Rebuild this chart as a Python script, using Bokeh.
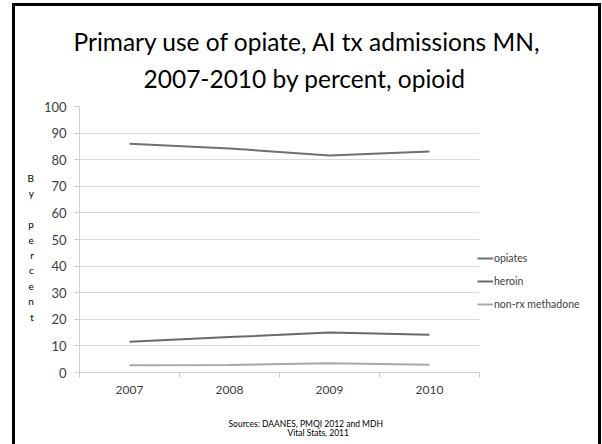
from bokeh.plotting import figure
from bokeh.models import (Range1d, FixedTicker, Legend, LegendItem, Title,
                          BoxAnnotation, ColumnDataSource, InlineStyleSheet)
from bokeh.embed import file_html
from bokeh.resources import INLINE

# Data: percent of primary-opiate admissions by opioid type
years = ["2007", "2008", "2009", "2010"]
opiates = [86.0, 84.2, 81.6, 83.1]
heroin = [11.6, 13.3, 15.0, 14.2]
methadone = [2.7, 2.8, 3.5, 2.9]
series_names = ["opiates", "heroin", "non-rx methadone"]
series_colors = ["#707070", "#6a6a6a", "#a8a8a8"]
y_ticks = list(range(0, 101, 10))
source_lines = ["Sources: DAANES, PMQI 2012 and MDH", "Vital Stats, 2011"]

FONT = "Lato"
W, H = 602, 444
n = len(years)
# the frame runs on to the right edge so the legend sits inside it;
# the category bands occupy 0..n, the rest holds the legend
x_end = n * (W - 79) / 400.0

p = figure(width=W, height=H, output_backend="svg", toolbar_location=None,
           x_range=Range1d(0, x_end), y_range=Range1d(0, 100),
           min_border_left=79, min_border_right=0,
           min_border_top=106, min_border_bottom=72)
p.outline_line_color = None
p.background_fill_color = "white"
p.border_fill_color = "white"

# category positions sit at the centre of each band
xs = [i + 0.5 for i in range(n)]

renderers = []
for name, vals, col in zip(series_names, [opiates, heroin, methadone], series_colors):
    src = ColumnDataSource(dict(x=xs, y=vals))
    r = p.line("x", "y", source=src, line_color=col, line_width=2)
    renderers.append((name, r))

# x axis: labels at band centres, tick marks at band edges
xa = p.xaxis[0]
xa.bounds = (0, n)
xa.ticker = FixedTicker(ticks=xs, minor_ticks=list(range(n + 1)))
xa.major_label_overrides = {x: y for x, y in zip(xs, years)}
xa.major_tick_out = 0
xa.major_tick_in = 0
xa.minor_tick_out = 5
xa.minor_tick_in = 0
xa.minor_tick_line_color = "#c8c8c8"
xa.axis_line_color = "#c8c8c8"
xa.major_label_text_font = FONT
xa.major_label_text_font_size = "12px"
xa.major_label_text_color = "#404040"
xa.major_label_standoff = 8

ya = p.yaxis[0]
ya.ticker = FixedTicker(ticks=y_ticks)
ya.minor_tick_line_color = None
ya.major_tick_out = 5
ya.major_tick_in = 0
ya.major_tick_line_color = "#c8c8c8"
ya.axis_line_color = "#d0d0d0"
ya.major_label_text_font = FONT
ya.major_label_text_font_size = "13px"
ya.major_label_text_color = "#404040"
ya.major_label_standoff = 8
# stacked, letter-per-line axis title
ya.axis_label = "\n".join(["", "B", "y", "", "p", "e", "r", "c", "e", "n", "t"])
ya.axis_label_orientation = "horizontal"
ya.axis_label_text_font = FONT
ya.axis_label_text_font_size = "10px"
ya.axis_label_text_font_style = "normal"
ya.axis_label_text_line_height = 1.29
ya.axis_label_text_color = "#000000"
ya.axis_label_standoff = 7

p.xgrid.grid_line_color = None
p.ygrid.grid_line_color = "#d9d9d9"
p.ygrid.grid_line_width = 1

# keep the legend strip clear of grid lines
p.add_layout(BoxAnnotation(left=n, fill_color="white", fill_alpha=1,
                           line_color=None))

legend = Legend(items=[LegendItem(label=nm, renderers=[r]) for nm, r in renderers],
                location=(398, 61), orientation="vertical",
                background_fill_alpha=0, border_line_color=None,
                padding=0, margin=0, spacing=9,
                glyph_width=16, glyph_height=14, label_height=14,
                label_standoff=1,
                label_text_font=FONT, label_text_font_size="10.5px",
                label_text_color="#404040")
p.add_layout(legend, "center")

# two-line title (inner line first)
p.title = None
for txt, off, so in [("2007-2010 by percent, opioid", 64, 27),
                     ("Primary use of opiate,  AI tx admissions MN,", -6, -14)]:
    p.add_layout(Title(text=txt, align="left", offset=off, standoff=so,
                       text_font=FONT, text_font_size="24.5px",
                       text_font_style="normal", text_color="#000000"), "above")

# source note under the axis: a blank spacer row, then the two lines
for txt, off, so in [(" ", 0, 8),
                     (source_lines[0], 149, 0),
                     (source_lines[1], 208, -6)]:
    p.add_layout(Title(text=txt, align="left", offset=off, standoff=so,
                       text_font=FONT, text_font_size="8.5px",
                       text_font_style="normal", text_color="#000000"), "below")

# slide frame drawn over the canvas
p.stylesheets = [InlineStyleSheet(css=(
    ":host { position: relative; }"
    ":host::after { content: ''; position: absolute; left: 12px; top: 3px;"
    " width: 589px; height: 470px; border: 3px solid #000;"
    " box-sizing: border-box; pointer-events: none; z-index: 10; }"))]

open("out.html", "w").write(file_html(p, INLINE))
